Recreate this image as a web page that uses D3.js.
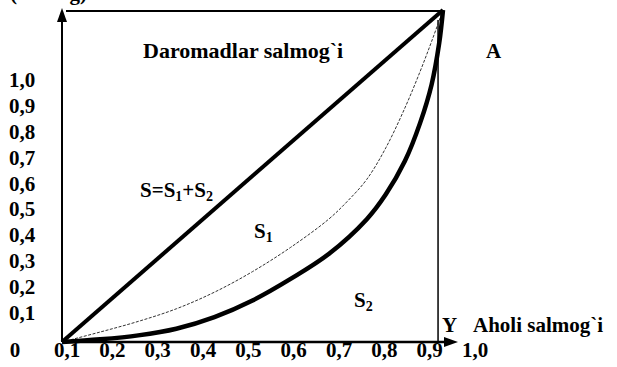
<!DOCTYPE html>
<html>
<head>
<meta charset="utf-8">
<script src="https://cdn.jsdelivr.net/npm/d3@7/dist/d3.min.js"></script>
<style>
  html, body { margin: 0; padding: 0; background: #fff; }
  svg { display: block; }
</style>
</head>
<body>
<svg id="chart" width="617" height="367" font-family="'Liberation Serif', 'Times New Roman', Times, serif" font-weight="bold"></svg>
<script>
// Tick labels along each axis
const xTickLabels = ["0,1", "0,2", "0,3", "0,4", "0,5", "0,6", "0,7", "0,8", "0,9", "1,0"];
const yTickLabels = ["1,0", "0,9", "0,8", "0,7", "0,6", "0,5", "0,4", "0,3", "0,2", "0,1"];

// Equality line: population share vs income share
const equalityX = [0, 1];
const equalityY = [0, 1];

// Lorenz curve (actual distribution)
const lorenzX = [0, 0.1, 0.2, 0.3, 0.4, 0.5, 0.6, 0.7, 0.8, 0.85, 0.9, 0.94, 0.97, 0.99, 1];
const lorenzY = [0, 0.008, 0.02, 0.04, 0.075, 0.125, 0.19, 0.265, 0.37, 0.445, 0.545, 0.66, 0.775, 0.90, 1];

// Intermediate distribution (thin dashed curve)
const midX = [0, 0.1, 0.2, 0.3, 0.4, 0.5, 0.6, 0.7, 0.75, 0.8, 0.85, 0.9, 0.94, 0.97, 1];
const midY = [0, 0.03, 0.062, 0.1, 0.15, 0.212, 0.285, 0.37, 0.425, 0.49, 0.585, 0.705, 0.815, 0.905, 1];

const svg = d3.select("#chart");

const x = d3.scaleLinear().domain([0, 1]).range([62, 443]);
const y = d3.scaleLinear().domain([0, 1]).range([342, 10]);

// Positions of the printed tick labels
const xLab = d3.scalePoint().domain(xTickLabels).range([67, 475]);
const yLab = d3.scalePoint().domain(yTickLabels).range([80, 313]);

const zip = (a, b) => a.map((v, i) => [v, b[i]]);
const line = d3.line().x(d => x(d[0])).y(d => y(d[1]));
const smooth = d3.line().x(d => x(d[0])).y(d => y(d[1])).curve(d3.curveCatmullRom.alpha(0.5));

// Frame: top edge of the square and right vertical at full population
svg.append("line")
  .attr("x1", x(0) + 4).attr("x2", x(1))
  .attr("y1", y(1) + 1).attr("y2", y(1) + 1)
  .attr("stroke", "#000").attr("stroke-width", 2);
svg.append("line")
  .attr("x1", x(0.987)).attr("x2", x(0.987))
  .attr("y1", y(0)).attr("y2", y(0.97))
  .attr("stroke", "#000").attr("stroke-width", 1.5);

// Axes with arrowheads
svg.append("line")
  .attr("x1", x(0)).attr("x2", x(0))
  .attr("y1", y(0)).attr("y2", 18)
  .attr("stroke", "#000").attr("stroke-width", 2);
svg.append("path")
  .attr("d", `M${x(0)},8 L${x(0) - 5},22 L${x(0) + 5},22 Z`)
  .attr("fill", "#000");
svg.append("line")
  .attr("x1", x(0)).attr("x2", 448)
  .attr("y1", y(0)).attr("y2", y(0))
  .attr("stroke", "#000").attr("stroke-width", 2.5);
svg.append("path")
  .attr("d", `M458,${y(0)} L444,${y(0) - 5} L444,${y(0) + 5} Z`)
  .attr("fill", "#000");

// Curves
svg.append("path")
  .attr("d", smooth(zip(midX, midY)))
  .attr("fill", "none").attr("stroke", "#333")
  .attr("stroke-width", 1).attr("stroke-dasharray", "3,1.5");
svg.append("path")
  .attr("d", smooth(zip(lorenzX, lorenzY)))
  .attr("fill", "none").attr("stroke", "#000").attr("stroke-width", 4.5)
  .attr("stroke-linejoin", "round");
svg.append("path")
  .attr("d", line(zip(equalityX, equalityY)))
  .attr("fill", "none").attr("stroke", "#000").attr("stroke-width", 4);

// Tick labels
svg.selectAll("text.xt").data(xTickLabels).join("text")
  .attr("class", "xt")
  .attr("x", d => xLab(d)).attr("y", 357)
  .attr("text-anchor", "middle").attr("font-size", 21)
  .text(d => d);
svg.selectAll("text.yt").data(yTickLabels).join("text")
  .attr("class", "yt")
  .attr("x", 22).attr("y", d => yLab(d) + 7)
  .attr("text-anchor", "middle").attr("font-size", 21)
  .text(d => d);
svg.append("text").attr("x", 15).attr("y", 357)
  .attr("text-anchor", "middle").attr("font-size", 21).text("0");

// Annotations
svg.append("text").attr("x", 10).attr("y", 0).attr("font-size", 21).text("(salmog)");
svg.append("text").attr("x", 143).attr("y", 58).attr("font-size", 22).text("Daromadlar salmog`i");
svg.append("text").attr("x", 486).attr("y", 58).attr("font-size", 21).text("A");

const sLabel = svg.append("text").attr("x", 140).attr("y", 197).attr("font-size", 21);
sLabel.append("tspan").text("S=S");
sLabel.append("tspan").attr("font-size", 14).attr("dy", 4).text("1");
sLabel.append("tspan").attr("dy", -4).text("+S");
sLabel.append("tspan").attr("font-size", 14).attr("dy", 4).text("2");

const s1 = svg.append("text").attr("x", 254).attr("y", 238).attr("font-size", 21);
s1.append("tspan").text("S");
s1.append("tspan").attr("font-size", 14).attr("dy", 4).text("1");

const s2 = svg.append("text").attr("x", 354).attr("y", 307).attr("font-size", 21);
s2.append("tspan").text("S");
s2.append("tspan").attr("font-size", 14).attr("dy", 4).text("2");

const yLabel = svg.append("text").attr("x", 442).attr("y", 332).attr("font-size", 21);
yLabel.append("tspan").text("Y");
yLabel.append("tspan").attr("x", 473).text("Aholi salmog`i");
</script>
</body>
</html>
